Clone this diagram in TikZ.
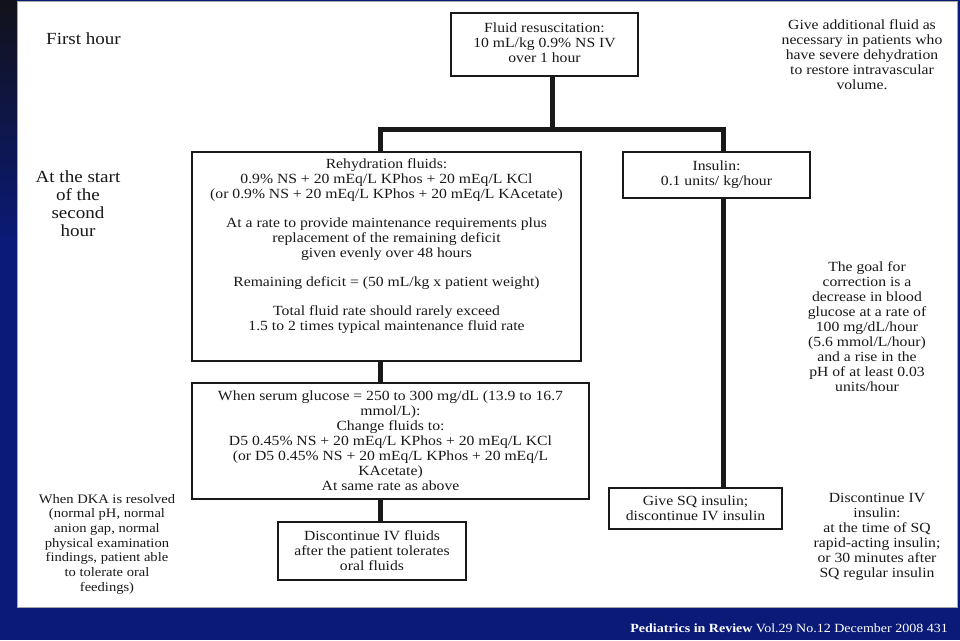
\documentclass[tikz,border=0pt]{standalone}
\usepackage{fontspec}
\setmainfont{Liberation Serif}[FakeStretch=1.12]
\definecolor{ink}{RGB}{25,25,25}
\definecolor{band}{RGB}{10,26,118}
\definecolor{strip}{RGB}{18,18,26}
\tikzset{
  stepbox/.style={draw=ink, line width=1.6pt, fill=white, align=center, inner sep=0pt, text=ink, font=\fontsize{14}{15}\selectfont},
  note/.style={align=center, text=ink, font=\fontsize{14}{15}\selectfont},
  phase/.style={align=center, text=ink, font=\fontsize{17}{18}\selectfont},
  link/.style={line width=5pt, draw=ink}
}
\begin{document}
\begin{tikzpicture}[x=1pt, y=-1pt]
  \useasboundingbox (0,0) rectangle (960,640);
  \fill[band] (0,0) rectangle (960,640);
  \shade[top color=strip, bottom color=band] (0,0) rectangle (17,240);
  \filldraw[fill=white, draw=gray!70, line width=1pt] (17,1) rectangle (957,607);

  \node[phase] (first) at (83.5,39) {First hour};
  \node[phase] (second) at (78,204) {At the start\\of the\\second\\hour};
  \node[note, font=\fontsize{13}{14.7}\selectfont] (resolved) at (107,544) {When DKA is resolved\\(normal pH, normal\\anion gap, normal\\physical examination\\findings, patient able\\to tolerate oral\\feedings)};

  \node[stepbox, minimum width=187, minimum height=63] (fluid) at (544.5,44.5) {\raisebox{4pt}{\begin{tabular}{@{}c@{}}Fluid resuscitation:\\10 mL/kg 0.9\% NS IV\\over 1 hour\end{tabular}}};
  \node[note] (extra) at (862,55) {Give additional fluid as\\necessary in patients who\\have severe dehydration\\to restore intravascular\\volume.};

  \node[stepbox, minimum width=389, minimum height=209] (rehyd) at (386.5,256.5) {\parbox[c][195pt][t]{385pt}{\centering
    Rehydration fluids:\\
    0.9\% NS + 20 mEq/L KPhos + 20 mEq/L KCl\\
    (or 0.9\% NS + 20 mEq/L KPhos + 20 mEq/L KAcetate)\\[14pt]
    At a rate to provide maintenance requirements plus\\
    replacement of the remaining deficit\\
    given evenly over 48 hours\\[14pt]
    Remaining deficit = (50 mL/kg x patient weight)\\[14pt]
    Total fluid rate should rarely exceed\\
    1.5 to 2 times typical maintenance fluid rate}};
  \node[stepbox, minimum width=187, minimum height=46] (insulin) at (716.5,175) {\raisebox{2pt}{\begin{tabular}{@{}c@{}}Insulin:\\0.1 units/ kg/hour\end{tabular}}};

  \begin{scope}
    \clip (790,250) rectangle (950,390);
    \node[note] (goal) at (867,327) {The goal for\\correction is a\\decrease in blood\\glucose at a rate of\\100 mg/dL/hour\\(5.6 mmol/L/hour)\\and a rise in the\\pH of at least 0.03\\units/hour};
  \end{scope}

  \node[stepbox, minimum width=397, minimum height=116] (glucose) at (390.5,441) {When serum glucose = 250 to 300 mg/dL (13.9 to 16.7\\mmol/L):\\Change fluids to:\\D5 0.45\% NS + 20 mEq/L KPhos + 20 mEq/L KCl\\(or D5 0.45\% NS + 20 mEq/L KPhos + 20 mEq/L\\KAcetate)\\At same rate as above};
  \node[stepbox, minimum width=188, minimum height=58] (stopfluids) at (372,551) {Discontinue IV fluids\\after the patient tolerates\\oral fluids};
  \node[stepbox, minimum width=173, minimum height=41] (sq) at (695.5,508.5) {Give SQ insulin;\\discontinue IV insulin};
  \node[note] (stopinsulin) at (877,537) {Discontinue IV\\insulin:\\at the time of SQ\\rapid-acting insulin;\\or 30 minutes after\\SQ regular insulin};

  \node[anchor=base east, text=white, inner sep=0pt, font=\fontsize{12.5}{14}\selectfont] (journal) at (948,632) {\textbf{Pediatrics in Review} Vol.29 No.12 December 2008 431};

  \coordinate (split) at (552,129);
  \coordinate (barL) at (380,129);
  \coordinate (barR) at (723,129);
  \draw[link] (fluid.south -| split) -- (split);
  \draw[link] (rehyd.north -| barL) -- (barL) -- (barR) -- (insulin.north -| barR);
  \draw[link] (rehyd.south -| barL) -- (glucose.north -| barL);
  \draw[link] (glucose.south -| barL) -- (stopfluids.north -| barL);
  \draw[link] (insulin.south -| barR) -- (sq.north -| barR);
\end{tikzpicture}
\end{document}
